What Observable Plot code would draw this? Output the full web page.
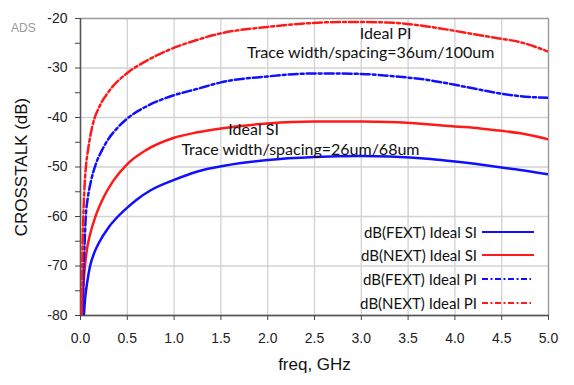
<!DOCTYPE html>
<html>
<head>
<meta charset="utf-8">
<script src="https://cdn.jsdelivr.net/npm/d3@7"></script>
<script src="https://cdn.jsdelivr.net/npm/@observablehq/plot@0.6"></script>
<style>
  body { margin: 0; background: #fff; }
  #wrap { position: relative; width: 574px; height: 385px; font-family: "Liberation Sans", Arial, sans-serif; }
  #ads { position: absolute; left: 11px; top: 21px; font-size: 12px; color: #9a9a9a; font-family: "Liberation Sans", Arial, sans-serif; }
  .leg { position: absolute; font-family: Lato, "Open Sans", sans-serif; font-size: 15px; color: #111; white-space: nowrap; }
  .legsw { position: absolute; }
</style>
</head>
<body>
<div id="wrap"></div>
<script>
// ---- data ----
const fextSiFreq = [0.036,0.05,0.07,0.1,0.15,0.2,0.3,0.4,0.5,0.6,0.75,1.0,1.25,1.55,2.0,2.5,3.0,3.3,3.74,4.0,4.27,4.5,4.7,5.0];
const fextSiDb   = [-80,-76.5,-73.5,-70.2,-67.2,-65.2,-62.2,-60,-58.2,-56.6,-54.7,-52.6,-50.9,-49.7,-48.6,-48.0,-47.8,-47.9,-48.4,-48.9,-49.5,-50.1,-50.6,-51.5];

const nextSiFreq = [0.018,0.03,0.05,0.07,0.1,0.16,0.25,0.35,0.5,0.7,1.0,1.25,1.5,2.0,2.5,3.0,3.3,3.74,4.0,4.27,4.5,4.7,5.0];
const nextSiDb   = [-80,-74.5,-69.5,-66.5,-63.8,-60.0,-56.0,-52.8,-49.4,-46.6,-44.1,-43.0,-42.2,-41.2,-40.8,-40.8,-40.9,-41.4,-41.8,-42.2,-42.7,-43.2,-44.4];

const fextPiFreq = [0.025,0.035,0.045,0.055,0.08,0.11,0.16,0.23,0.3,0.41,0.5,0.7,0.95,1.25,1.5,2.0,2.5,3.0,3.3,3.74,4.0,4.27,4.5,4.7,5.0];
const fextPiDb   = [-80,-70,-65,-60.5,-56,-53,-49.6,-46.6,-44.3,-41.8,-40.2,-37.8,-35.8,-34.2,-32.9,-31.7,-31.1,-31.2,-31.6,-32.5,-33.4,-34.4,-35.2,-35.7,-36.0];

const nextPiFreq = [0.012,0.02,0.03,0.045,0.06,0.08,0.125,0.21,0.3,0.5,0.7,0.95,1.25,1.5,2.0,2.4,2.8,3.28,3.74,4.0,4.27,4.5,4.7,5.0];
const nextPiDb   = [-80,-68,-60,-53.3,-49.5,-46.6,-41.9,-37.5,-34.8,-31.0,-28.6,-26.3,-24.3,-23.0,-21.7,-21.0,-20.7,-20.8,-21.7,-22.5,-23.4,-24.1,-24.8,-26.7];

const seriesNames  = ["dB(FEXT) Ideal SI", "dB(NEXT) Ideal SI", "dB(FEXT) Ideal PI", "dB(NEXT) Ideal PI"];
const seriesColors = ["#1010ff", "#ff1a1a", "#1010ff", "#ff1a1a"];
const seriesDash   = [null, null, "9,3,3,3", "9,3,3,3"];

const xTicks = [0, 0.5, 1, 1.5, 2, 2.5, 3, 3.5, 4, 4.5, 5];
const yTicks = [-80, -70, -60, -50, -40, -30, -20];
const yMinorTicks = [-75, -65, -55, -45, -35, -25];

const annoText = ["Ideal PI", "Trace width/spacing=36um/100um", "Ideal SI", "Trace width/spacing=26um/68um"];
const annoX    = [3.26, 3.1, 1.85, 2.35];
const annoY    = [-23.1, -27.0, -42.6, -46.5];

const xLabel = "freq, GHz";
const yLabel = "CROSSTALK (dB)";

// ---- build ----
const allFreq = [fextSiFreq, nextSiFreq, fextPiFreq, nextPiFreq];
const allDb = [fextSiDb, nextSiDb, fextPiDb, nextPiDb];
const series = allFreq.map((fs, i) => fs.map((f, j) => ({f, db: allDb[i][j]})));
const annos = annoText.map((t, i) => ({t, x: annoX[i], y: annoY[i]}));

const lineMarks = series.map((d, i) => Plot.line(d, {
  x: "f", y: "db", stroke: seriesColors[i], strokeWidth: 2.5,
  strokeDasharray: seriesDash[i] || undefined, curve: "monotone-x", clip: true
}));

const chart = Plot.plot({
  width: 574, height: 385,
  marginLeft: 80, marginRight: 26, marginTop: 18, marginBottom: 70,
  style: { fontFamily: "'Liberation Sans', Arial, sans-serif", background: "#fff", color: "#222" },
  x: { domain: [0, 5] },
  y: { domain: [-80, -20] },
  marks: [
    Plot.gridX(xTicks, { stroke: "#d2d2d2", strokeOpacity: 1, strokeWidth: 1.3 }),
    Plot.gridY(yTicks, { stroke: "#d2d2d2", strokeOpacity: 1, strokeWidth: 1.3 }),
    Plot.frame({ stroke: "#9a9a9a", strokeWidth: 1.3 }),
    Plot.ruleX([0], { stroke: "#555", strokeWidth: 1.4 }),
    Plot.ruleY([-80], { stroke: "#555", strokeWidth: 1.4 }),
    Plot.axisX(xTicks, { tickSize: 5, tickPadding: 13, fontSize: 14, label: null, stroke: "#444", tickFormat: d3.format(".1f") }),
    Plot.axisY(yTicks, { tickSize: 5, tickPadding: 8, fontSize: 14, label: null, stroke: "#444", tickFormat: d => String(d).replace("−", "-") }),
    Plot.axisY(yMinorTicks, { tickSize: 5, tickFormat: () => "", label: null, stroke: "#444" }),
    ...lineMarks,
    Plot.text(annos, { x: "x", y: "y", text: "t", fontSize: 16, fill: "#111", fontFamily: "Lato, 'Open Sans', sans-serif", textAnchor: "middle" }),
    Plot.text([xLabel], { frameAnchor: "bottom", dy: 54, fontSize: 17, fill: "#111", textAnchor: "middle" }),
    Plot.text([yLabel], { frameAnchor: "left", dx: -59, rotate: -90, fontSize: 17, fill: "#111", textAnchor: "middle" })
  ]
});

const wrap = document.getElementById("wrap");
wrap.appendChild(chart);

const ads = document.createElement("div");
ads.id = "ads"; ads.textContent = "ADS";
wrap.appendChild(ads);

// legend overlay
const legRowsY = [232, 255, 279, 303];
seriesNames.forEach((name, i) => {
  const t = document.createElement("div");
  t.className = "leg";
  t.style.right = (574 - 477) + "px";
  t.style.top = (legRowsY[i] - 10) + "px";
  t.style.lineHeight = "20px";
  t.textContent = name;
  wrap.appendChild(t);
  const ns = "http://www.w3.org/2000/svg";
  const sv = document.createElementNS(ns, "svg");
  sv.setAttribute("class", "legsw");
  sv.setAttribute("width", 56); sv.setAttribute("height", 8);
  sv.style.left = "481px"; sv.style.top = (legRowsY[i] - 4) + "px";
  const ln = document.createElementNS(ns, "line");
  ln.setAttribute("x1", 1); ln.setAttribute("x2", seriesDash[i] ? 50 : 53);
  ln.setAttribute("y1", 4); ln.setAttribute("y2", 4);
  ln.setAttribute("stroke", seriesColors[i]); ln.setAttribute("stroke-width", 2.2);
  if (seriesDash[i]) ln.setAttribute("stroke-dasharray", "6,2.5,2,2.5");
  sv.appendChild(ln);
  wrap.appendChild(sv);
});
</script>
</body>
</html>
